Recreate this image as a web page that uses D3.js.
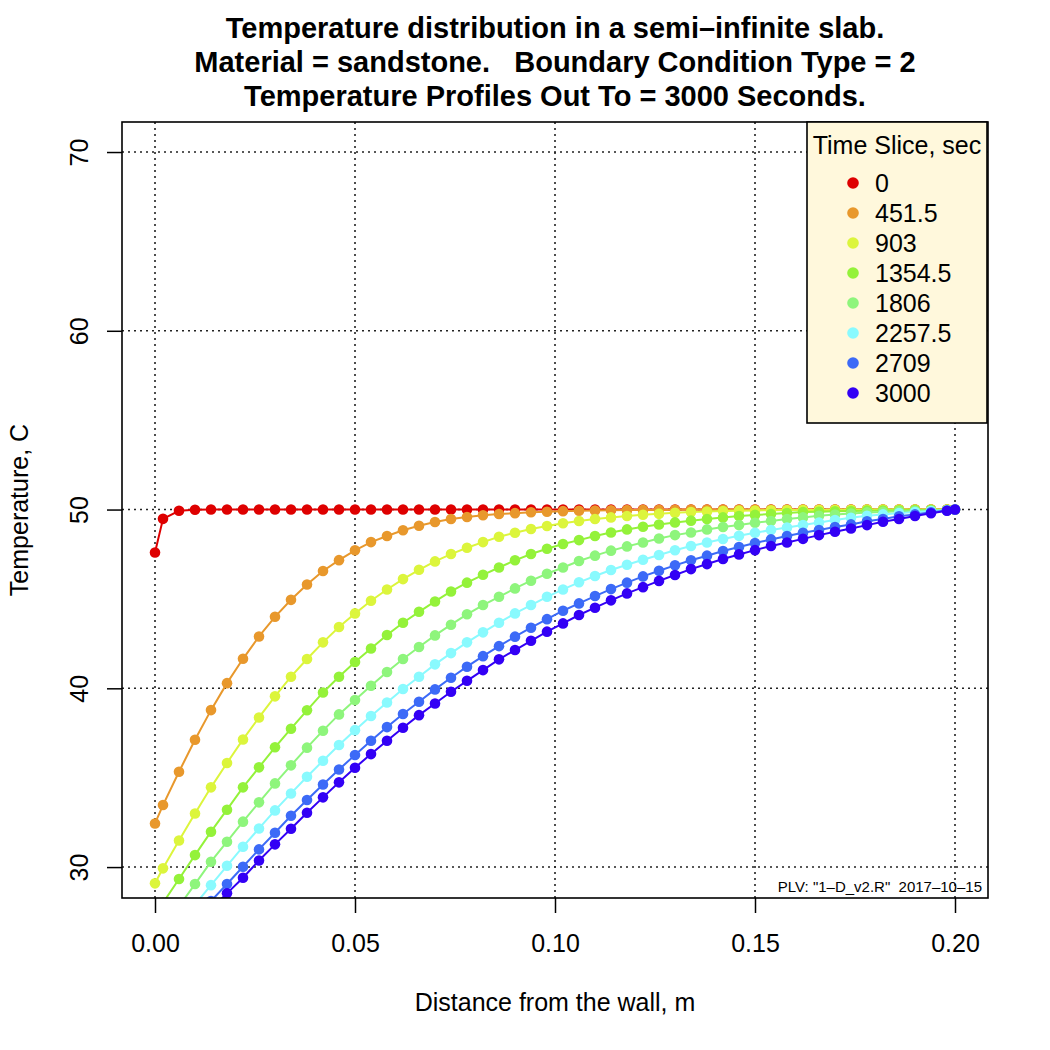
<!DOCTYPE html>
<html>
<head>
<meta charset="utf-8">
<title>Temperature distribution in a semi-infinite slab</title>
<script src="https://cdn.jsdelivr.net/npm/d3@7"></script>
<style>
  html, body { margin: 0; background: #FFF; }
  svg { display: block; font-family: "Liberation Sans", Arial, Helvetica, sans-serif; }
</style>
</head>
<body>
<script>
// distance from the wall, m
var xs = [0, 0.002, 0.006, 0.010, 0.014, 0.018, 0.022, 0.026, 0.030, 0.034, 0.038, 0.042,
  0.046, 0.050, 0.054, 0.058, 0.062, 0.066, 0.070, 0.074, 0.078, 0.082, 0.086, 0.090,
  0.094, 0.098, 0.102, 0.106, 0.110, 0.114, 0.118, 0.122, 0.126, 0.130, 0.134, 0.138,
  0.142, 0.146, 0.150, 0.154, 0.158, 0.162, 0.166, 0.170, 0.174, 0.178, 0.182, 0.186,
  0.190, 0.194, 0.198, 0.200];

var timeSlices = ["0", "451.5", "903", "1354.5", "1806", "2257.5", "2709", "3000"];
var colors = ["#DE0000", "#E8982C", "#DCF53C", "#94F23A", "#8EF57C", "#89FAFE", "#3C6AF7", "#3300F5"];

// temperature profiles, C (one per time slice)
var t0 = [47.6, 49.48, 49.93, 49.99, 50, 50, 50, 50, 50, 50, 50, 50, 50, 50, 50, 50, 50, 50,
  50, 50, 50, 50, 50, 50, 50, 50, 50, 50, 50, 50, 50, 50, 50, 50, 50, 50, 50, 50, 50, 50,
  50, 50, 50, 50, 50, 50, 50, 50, 50, 50, 50, 50];
var t451 = [32.44, 33.47, 35.33, 37.12, 38.78, 40.29, 41.65, 42.90, 44.00, 44.95, 45.81, 46.56,
  47.17, 47.72, 48.18, 48.52, 48.84, 49.09, 49.30, 49.47, 49.58, 49.68, 49.75, 49.80,
  49.85, 49.88, 49.91, 49.93, 49.95, 49.96, 49.97, 49.98, 49.98, 49.99, 50, 50,
  50, 50, 50, 50, 50, 50, 50, 50, 50, 50, 50, 50, 50, 50, 50, 50];
var t903 = [29.09, 29.93, 31.49, 33.00, 34.46, 35.82, 37.14, 38.37, 39.55, 40.65, 41.64, 42.57,
  43.43, 44.19, 44.90, 45.53, 46.11, 46.63, 47.10, 47.51, 47.86, 48.18, 48.48, 48.70,
  48.91, 49.08, 49.23, 49.36, 49.47, 49.56, 49.64, 49.71, 49.76, 49.82, 49.86, 49.89,
  49.92, 49.94, 49.95, 49.96, 49.97, 49.98, 49.98, 49.99, 49.99, 50, 50, 50, 50, 50, 50, 50];
var t1354 = [27.35, 28.00, 29.33, 30.67, 31.98, 33.21, 34.46, 35.58, 36.70, 37.74, 38.77, 39.77,
  40.65, 41.47, 42.23, 42.98, 43.67, 44.28, 44.86, 45.42, 45.91, 46.35, 46.76, 47.16,
  47.51, 47.81, 48.07, 48.29, 48.52, 48.72, 48.89, 49.04, 49.16, 49.28, 49.38, 49.47,
  49.56, 49.64, 49.70, 49.75, 49.81, 49.86, 49.88, 49.90, 49.92, 49.94, 49.95, 49.96,
  49.97, 49.98, 49.99, 50];
var t1806 = [26.0, 26.6, 27.8, 29.05, 30.30, 31.42, 32.54, 33.62, 34.68, 35.69, 36.68, 37.63,
  38.54, 39.34, 40.14, 40.91, 41.64, 42.31, 42.96, 43.56, 44.14, 44.66, 45.12, 45.59,
  46.02, 46.41, 46.76, 47.12, 47.42, 47.70, 47.94, 48.16, 48.38, 48.57, 48.72, 48.89,
  49.02, 49.13, 49.26, 49.36, 49.47, 49.56, 49.65, 49.72, 49.78, 49.84, 49.87, 49.90,
  49.93, 49.95, 49.97, 50];
var t2257 = [25.3, 25.8, 26.85, 27.9, 28.99, 30.07, 31.14, 32.16, 33.17, 34.12, 35.05, 35.95,
  36.83, 37.66, 38.45, 39.21, 39.96, 40.65, 41.34, 41.97, 42.57, 43.13, 43.67, 44.19,
  44.66, 45.12, 45.53, 45.93, 46.28, 46.62, 46.91, 47.19, 47.46, 47.72, 47.96, 48.16,
  48.35, 48.53, 48.70, 48.85, 49.00, 49.14, 49.27, 49.41, 49.54, 49.65, 49.73, 49.80,
  49.86, 49.92, 49.96, 50];
var t2709 = [24.85, 25.3, 26.2, 27.15, 28.1, 29.05, 30.02, 30.99, 31.92, 32.87, 33.75, 34.62,
  35.46, 36.27, 37.07, 37.83, 38.56, 39.25, 39.94, 40.59, 41.21, 41.80, 42.36, 42.89,
  43.39, 43.87, 44.34, 44.75, 45.16, 45.55, 45.91, 46.26, 46.58, 46.88, 47.16, 47.42,
  47.68, 47.90, 48.13, 48.33, 48.52, 48.70, 48.85, 49.02, 49.17, 49.34, 49.47, 49.62,
  49.73, 49.85, 49.95, 50];
var t3000 = [24.7, 25.1, 25.95, 26.8, 27.65, 28.53, 29.40, 30.37, 31.27, 32.14, 33.04, 33.90,
  34.74, 35.56, 36.32, 37.07, 37.79, 38.50, 39.15, 39.81, 40.42, 41.02, 41.62, 42.14,
  42.66, 43.17, 43.63, 44.10, 44.51, 44.92, 45.31, 45.66, 46.01, 46.34, 46.67, 46.95,
  47.23, 47.49, 47.73, 47.96, 48.16, 48.36, 48.57, 48.76, 48.94, 49.13, 49.32, 49.47,
  49.64, 49.79, 49.93, 50];

var xTicks = [0, 0.05, 0.10, 0.15, 0.20];
var yTicks = [30, 40, 50, 60, 70];

var profiles = [t0, t451, t903, t1354, t1806, t2257, t2709, t3000];

var W = 1050, H = 1050;
var pL = 122, pR = 988, pT = 122, pB = 898;

var svg = d3.select('body').append('svg')
  .attr('width', W)
  .attr('height', H);

var x = d3.scaleLinear().domain([-0.00825, 0.20825]).range([pL, pR]);
var y = d3.scaleLinear().domain([28.27, 71.68]).range([pB, pT]);

svg.append('clipPath').attr('id', 'plotclip')
  .append('rect')
  .attr('x', pL).attr('y', pT)
  .attr('width', pR - pL).attr('height', pB - pT);

// grid
var grid = svg.append('g');
grid.selectAll('.gx').data(xTicks).enter().append('line')
  .attr('x1', function(d){ return x(d); }).attr('x2', function(d){ return x(d); })
  .attr('y1', pT).attr('y2', pB);
grid.selectAll('.gy').data(yTicks).enter().append('line')
  .attr('y1', function(d){ return y(d); }).attr('y2', function(d){ return y(d); })
  .attr('x1', pL).attr('x2', pR);
grid.selectAll('line')
  .attr('stroke', '#222')
  .attr('stroke-width', 1.6)
  .attr('stroke-dasharray', '2,4');

// profiles
var plot = svg.append('g').attr('clip-path', 'url(#plotclip)');
var line = d3.line()
  .x(function(d, i){ return x(xs[i]); })
  .y(function(d){ return y(d); });

profiles.forEach(function(p, k){
  var g = plot.append('g');
  g.append('path')
    .attr('d', line(p))
    .attr('fill', 'none')
    .attr('stroke', colors[k])
    .attr('stroke-width', 2);
  g.selectAll('circle').data(p).enter().append('circle')
    .attr('cx', function(d, i){ return x(xs[i]); })
    .attr('cy', function(d){ return y(d); })
    .attr('r', 5.3)
    .attr('fill', colors[k]);
});

// axes
var xAxis = d3.axisBottom(x).tickValues(xTicks).tickFormat(d3.format('.2f')).tickSize(15).tickPadding(21);
var gx = svg.append('g').attr('transform', 'translate(0,' + pB + ')').call(xAxis);
gx.select('.domain').remove();

var yAxis = d3.axisLeft(y).tickValues(yTicks).tickSize(15);
var gy = svg.append('g').attr('transform', 'translate(' + pL + ',0)').call(yAxis);
gy.select('.domain').remove();
gy.selectAll('.tick text')
  .attr('transform', 'rotate(-90,-43,0)')
  .attr('x', -43).attr('dy', '0.35em')
  .attr('text-anchor', 'middle');

svg.selectAll('.tick line').attr('stroke', '#000').attr('stroke-width', 1.5);
svg.selectAll('.tick text').attr('font-size', 25).attr('fill', '#000')
  .attr('font-family', '"Liberation Sans", Arial, sans-serif');

// plot box
svg.append('rect')
  .attr('x', pL).attr('y', pT)
  .attr('width', pR - pL).attr('height', pB - pT)
  .attr('fill', 'none').attr('stroke', '#000').attr('stroke-width', 1.6);

// titles
var titles = ['Temperature distribution in a semi\u2013infinite slab.',
  'Material = sandstone.   Boundary Condition Type = 2',
  'Temperature Profiles Out To = 3000 Seconds.'];
svg.selectAll('.title').data(titles).enter().append('text')
  .attr('x', (pL + pR) / 2)
  .attr('y', function(d, i){ return 38 + i * 34; })
  .attr('text-anchor', 'middle')
  .attr('font-size', 29)
  .attr('font-weight', 'bold')
  .style('white-space', 'pre')
  .text(function(d){ return d; });

svg.append('text')
  .attr('x', (pL + pR) / 2).attr('y', 1011)
  .attr('text-anchor', 'middle').attr('font-size', 25)
  .text('Distance from the wall, m');

svg.append('text')
  .attr('transform', 'translate(28,' + ((pT + pB) / 2) + ') rotate(-90)')
  .attr('text-anchor', 'middle').attr('font-size', 25)
  .text('Temperature, C');

svg.append('text')
  .attr('x', 982).attr('y', 892)
  .attr('text-anchor', 'end').attr('font-size', 15)
  .style('white-space', 'pre')
  .text('PLV: "1\u2013D_v2.R"  2017\u201310\u201315');

// legend
var lg = svg.append('g');
lg.append('rect')
  .attr('x', 807).attr('y', 122).attr('width', 180).attr('height', 301)
  .attr('fill', '#FFF8DC').attr('stroke', '#000').attr('stroke-width', 1.6);
lg.append('text')
  .attr('x', 897).attr('y', 154)
  .attr('text-anchor', 'middle').attr('font-size', 25)
  .text('Time Slice, sec');
var items = lg.selectAll('.item').data(timeSlices).enter().append('g')
  .attr('transform', function(d, i){ return 'translate(0,' + (183 + i * 30) + ')'; });
items.append('circle')
  .attr('cx', 853).attr('cy', 0).attr('r', 5.8)
  .attr('fill', function(d, i){ return colors[i]; });
items.append('text')
  .attr('x', 875).attr('y', 0).attr('dy', '0.35em')
  .attr('font-size', 25)
  .text(function(d){ return d; });
</script>
</body>
</html>
